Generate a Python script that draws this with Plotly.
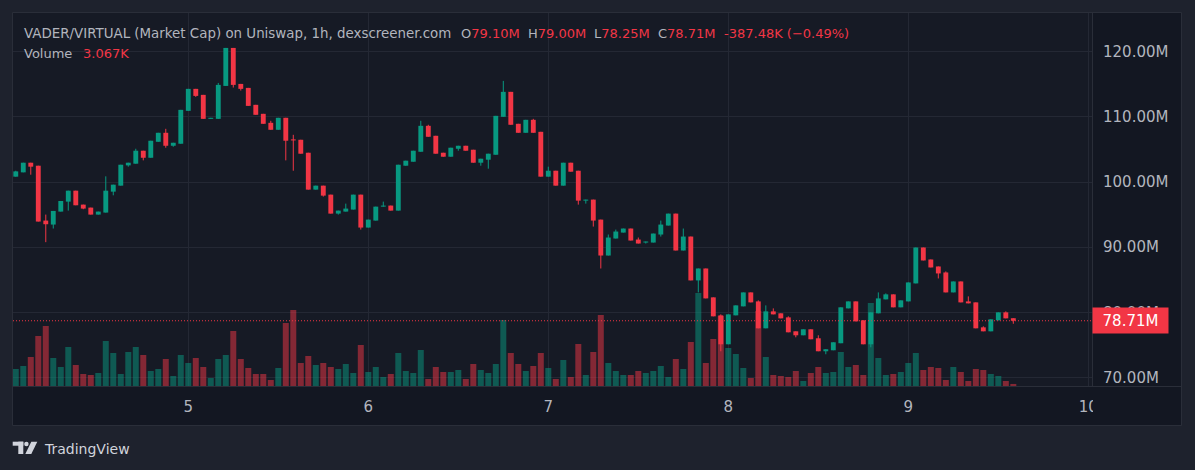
import plotly.graph_objects as go
import pandas as pd

# ---------------- data ----------------
start_time = "2025-02-04 01:00"   # first hourly candle
opens = [100.82, 101.48, 102.96, 102.50, 94.08, 93.47, 95.46, 96.99, 98.67, 96.53,
         96.07, 95.00, 95.31, 98.52, 99.44, 102.55, 102.81, 104.80, 103.72, 106.17,
         107.55, 105.56, 105.87, 110.92, 114.29, 113.37, 109.69, 109.69, 114.74, 120.57,
         115.05, 114.44, 111.84, 110.46, 109.08, 108.01, 109.85, 106.53, 106.48, 104.49,
         98.83, 99.44, 98.06, 95.15, 95.46, 95.77, 98.06, 93.01, 94.08, 96.22,
         96.38, 95.61, 102.50, 103.11, 104.64, 108.62, 107.09, 104.49, 103.88, 105.10,
         105.56, 104.95, 102.96, 103.42, 104.18, 110.00, 113.83, 108.93, 107.55, 109.54,
         107.70, 100.82, 101.73, 99.44, 102.96, 101.73, 97.14, 97.30, 94.23, 88.72,
         91.33, 92.24, 92.86, 91.17, 90.71, 90.71, 91.94, 93.32, 95.15, 89.49,
         91.63, 84.90, 86.73, 82.30, 79.54, 75.10, 79.54, 80.92, 83.06, 81.68,
         77.55, 80.15, 79.85, 79.23, 77.09, 76.48, 77.40, 76.02, 74.03, 74.18,
         75.26, 80.61, 81.68, 78.78, 75.10, 79.85, 81.99, 82.76, 80.77, 81.68,
         84.44, 89.95, 88.11, 87.04, 86.12, 83.06, 84.74, 81.68, 81.53, 77.70,
         77.09, 78.78, 80.00, 79.10]
highs = [101.73, 102.96, 102.96, 102.50, 95.00, 95.56, 97.09, 98.67, 98.67, 96.53,
         96.07, 95.46, 100.87, 99.59, 102.65, 102.96, 105.10, 104.80, 106.33, 107.55,
         108.16, 106.02, 111.07, 114.29, 114.29, 113.37, 109.85, 115.20, 120.57, 120.57,
         115.05, 114.44, 111.84, 110.46, 109.39, 109.85, 109.85, 107.24, 106.48, 104.49,
         99.44, 99.44, 98.06, 95.61, 96.68, 98.06, 98.06, 94.23, 96.22, 96.99,
         96.38, 102.65, 103.27, 104.80, 109.39, 108.78, 107.09, 104.49, 105.26, 105.56,
         105.56, 104.95, 103.57, 104.34, 110.15, 115.51, 113.83, 108.93, 109.54, 109.69,
         107.70, 102.35, 101.73, 102.96, 102.96, 101.73, 97.30, 97.30, 94.23, 91.94,
         92.70, 92.86, 92.86, 91.48, 90.87, 92.09, 94.08, 95.15, 95.15, 92.86,
         91.63, 86.73, 86.73, 82.30, 79.69, 79.69, 81.07, 83.06, 83.06, 81.84,
         81.07, 80.61, 79.85, 79.39, 77.09, 77.40, 77.40, 76.48, 74.34, 75.41,
         80.77, 81.68, 81.68, 78.78, 80.00, 83.06, 82.91, 82.76, 81.84, 84.59,
         89.95, 89.95, 88.11, 87.04, 86.28, 84.74, 84.74, 82.45, 81.53, 77.86,
         78.93, 80.00, 80.15, 79.10]
lows = [100.82, 101.48, 101.12, 93.93, 90.77, 92.86, 95.46, 95.61, 96.43, 95.82,
        95.00, 95.00, 95.31, 97.96, 99.44, 102.35, 102.81, 103.32, 103.72, 106.17,
        105.26, 105.41, 105.87, 110.92, 113.06, 109.69, 109.69, 109.69, 114.74, 114.49,
        114.03, 111.68, 110.31, 108.93, 108.01, 108.01, 103.32, 101.73, 104.34, 98.83,
        98.83, 97.76, 95.15, 95.00, 95.46, 95.77, 92.70, 93.01, 94.08, 96.22,
        95.61, 95.61, 102.50, 103.11, 104.64, 106.94, 104.34, 103.88, 103.88, 104.80,
        104.80, 102.96, 102.50, 102.04, 104.18, 110.00, 108.78, 107.55, 107.55, 107.55,
        100.82, 100.82, 99.44, 99.44, 101.58, 96.53, 96.68, 93.16, 86.73, 88.72,
        91.33, 92.24, 91.02, 90.56, 90.56, 90.71, 91.63, 93.32, 89.49, 89.49,
        84.90, 83.06, 82.14, 79.39, 74.03, 75.10, 79.54, 80.92, 81.53, 77.55,
        77.55, 79.69, 79.08, 76.94, 76.17, 76.48, 75.87, 74.03, 73.57, 74.18,
        75.26, 80.61, 78.62, 75.10, 74.64, 79.85, 81.99, 80.77, 80.77, 81.68,
        84.44, 87.96, 86.89, 85.20, 83.06, 83.06, 81.53, 81.38, 77.55, 77.09,
        77.09, 78.78, 79.08, 78.25]
closes = [101.63, 102.96, 102.35, 93.93, 93.52, 95.56, 97.09, 98.67, 96.43, 95.92,
          95.00, 95.46, 98.67, 99.59, 102.65, 102.96, 104.80, 103.72, 106.33, 107.55,
          105.56, 106.02, 111.07, 114.29, 113.21, 109.69, 109.85, 114.90, 120.57, 114.90,
          114.29, 111.68, 110.31, 108.93, 108.01, 109.85, 106.33, 106.38, 104.34, 98.83,
          99.44, 97.91, 95.15, 95.61, 95.92, 98.06, 93.01, 94.23, 96.22, 96.38,
          95.61, 102.65, 103.27, 104.80, 108.62, 106.94, 104.34, 103.88, 105.26, 105.56,
          104.80, 102.96, 103.57, 104.34, 110.15, 113.83, 108.78, 107.55, 109.54, 107.55,
          100.82, 101.73, 99.44, 102.96, 101.58, 97.14, 97.30, 94.08, 88.72, 91.48,
          92.40, 92.86, 91.02, 90.56, 90.87, 92.09, 93.47, 95.15, 89.49, 91.63,
          84.90, 86.73, 82.14, 79.39, 75.10, 79.69, 81.07, 83.06, 81.53, 77.55,
          80.15, 79.69, 79.08, 76.94, 76.48, 77.40, 75.87, 74.03, 74.34, 75.41,
          80.77, 81.68, 78.62, 75.10, 80.00, 82.14, 82.76, 80.77, 81.84, 84.59,
          89.95, 87.96, 86.89, 85.97, 83.06, 84.74, 81.53, 81.38, 77.55, 77.09,
          78.93, 80.00, 79.08, 78.71]
volumes_k = [25.5, 30, 43.5, 75, 90, 42, 28.5, 58.5, 31.5, 18, 16.5, 19.5, 67.5, 49.5, 18,
             51, 58.5, 46.5, 22.5, 25.5, 40.5, 15, 46.5, 34.5, 42, 28.5, 12, 40.5, 46.5, 82.5,
             40.5, 27, 18, 18, 9, 27, 94.5, 114, 34.5, 45, 31.5, 34.5, 28.5, 25.5, 33,
             19.5, 61.5, 21, 28.5, 13.5, 18, 49.5, 22.5, 19.5, 54, 10.5, 28.5, 21, 21, 24,
             10.5, 33, 24, 19.5, 33, 99, 49.5, 33, 22.5, 30, 49.5, 27, 10.5, 39, 13.5,
             63, 16.5, 51, 106.5, 34.5, 22.5, 16.5, 16.5, 22.5, 19.5, 22.5, 30, 13.5, 40.5, 25.5,
             66, 139.5, 34.5, 70.5, 105, 57, 48, 27, 12, 112.5, 43.5, 16.5, 15, 13.5, 22.5,
             7.5, 19.5, 28.5, 19.5, 21, 51, 28.5, 31.5, 16.5, 124.5, 42, 16.5, 18, 21, 34.5,
             49.5, 24, 28.5, 27, 9, 28.5, 21, 7.5, 25.5, 24, 18, 15, 7.5, 3.067]

day_ticks = ["2025-02-05", "2025-02-06", "2025-02-07", "2025-02-08", "2025-02-09", "2025-02-10"]
day_labels = ["5", "6", "7", "8", "9", "10"]
price_ticks = [70, 80, 90, 100, 110, 120]
price_labels = ["70.00M", "80.00M", "90.00M", "100.00M", "110.00M", "120.00M"]

title_text = "VADER/VIRTUAL (Market Cap) on Uniswap, 1h, dexscreener.com"
ohlc_header = [("O", "79.10M"), ("H", "79.00M"), ("L", "78.25M"), ("C", "78.71M")]
change_text = "-387.48K (\u22120.49%)"
volume_text = "3.067K"

assert len(opens) == len(highs) == len(lows) == len(closes) == len(volumes_k)

# ---------------- style ----------------
W, H = 1195, 470
PL, PR, PT, PB = 13, 1092, 13, 386
UP, DOWN = "#089981", "#f23645"
UP_VOL, DOWN_VOL = "rgba(8,153,129,0.5)", "rgba(242,54,69,0.5)"
TXT = "#b2b5be"
GRID = "#242834"
BORDER = "#2a2e39"
FONT = "DejaVu Sans"
HOUR_MS = 3600 * 1000


def xp(px):
    return (px - PL) / (PR - PL)


def yp(py):
    return (PB - py) / (PB - PT)


times = pd.date_range(start_time, periods=len(opens), freq="h")
is_up = [c >= o for o, c in zip(opens, closes)]

fig = go.Figure()

# volume (base axis y)
fig.add_trace(go.Bar(
    x=times, y=volumes_k, yaxis="y", xaxis="x",
    marker=dict(color=[UP_VOL if u else DOWN_VOL for u in is_up], line=dict(width=0)),
    width=0.8 * HOUR_MS, hoverinfo="skip", showlegend=False,
))

# last price dotted line
day5 = pd.Timestamp(day_ticks[0])
x_range = [day5 - pd.Timedelta(hours=23.37), day5 + pd.Timedelta(hours=120.49)]
fig.add_trace(go.Scatter(
    x=x_range, y=[closes[-1], closes[-1]], yaxis="y2", mode="lines",
    line=dict(color=DOWN, width=1, dash="1px,2px"), hoverinfo="skip", showlegend=False,
))

# wicks
for up_flag, col in ((True, UP), (False, DOWN)):
    wx, wy = [], []
    for t, h, l, u in zip(times, highs, lows, is_up):
        if u == up_flag:
            wx += [t, t, None]
            wy += [l, h, None]
    fig.add_trace(go.Scatter(x=wx, y=wy, yaxis="y2", mode="lines",
                             line=dict(color=col, width=1), hoverinfo="skip",
                             showlegend=False))

# bodies
for up_flag, col in ((True, UP), (False, DOWN)):
    bx, bb, bh = [], [], []
    for t, o, c, u in zip(times, opens, closes, is_up):
        if u == up_flag:
            bx.append(t)
            bb.append(min(o, c))
            bh.append(max(abs(c - o), 0.16))
    fig.add_trace(go.Bar(x=bx, y=bh, base=bb, yaxis="y2", width=0.65 * HOUR_MS,
                         marker=dict(color=col, line=dict(width=0)),
                         hoverinfo="skip", showlegend=False))

shapes = [
    dict(type="rect", xref="paper", yref="paper", layer="below",
         x0=xp(12.5), x1=xp(1181.5), y0=yp(425.5), y1=yp(12.5),
         fillcolor="#131722", line=dict(color=BORDER, width=1)),
    dict(type="rect", xref="paper", yref="paper", layer="below",
         x0=xp(13), x1=xp(1092), y0=yp(386), y1=yp(13),
         fillcolor="#161a25", line=dict(width=0)),
    dict(type="line", xref="paper", yref="paper", layer="below",
         x0=xp(1092.5), x1=xp(1092.5), y0=yp(386), y1=yp(13),
         line=dict(color=BORDER, width=1)),
    dict(type="line", xref="paper", yref="paper", layer="below",
         x0=xp(13), x1=xp(1181), y0=yp(386.5), y1=yp(386.5),
         line=dict(color=BORDER, width=1)),
    # clip of the time-axis label that runs under the price scale
    dict(type="rect", xref="paper", yref="paper", layer="above",
         x0=xp(1093), x1=xp(1181), y0=yp(425), y1=yp(387),
         fillcolor="#131722", line=dict(width=0)),
    # TradingView logo
    dict(type="rect", xref="paper", yref="paper", x0=xp(12.7), x1=xp(23.3),
         y0=yp(445.7), y1=yp(441.7), fillcolor="#d1d4dc", line=dict(width=0)),
    dict(type="rect", xref="paper", yref="paper", x0=xp(18.3), x1=xp(23.3),
         y0=yp(454), y1=yp(441.7), fillcolor="#d1d4dc", line=dict(width=0)),
    dict(type="circle", xref="paper", yref="paper", x0=xp(24.2), x1=xp(28.6),
         y0=yp(446.2), y1=yp(441.8), fillcolor="#d1d4dc", line=dict(width=0)),
    dict(type="path", xref="paper", yref="paper",
         path=f"M {xp(31.3)} {yp(441.7)} L {xp(37.3)} {yp(441.7)} L {xp(31.3)} {yp(454)} L {xp(25.3)} {yp(454)} Z",
         fillcolor="#d1d4dc", line=dict(width=0)),
]

annotations = [
    dict(text=title_text, xref="paper", yref="paper", x=xp(23), y=yp(33.3),
         xanchor="left", yanchor="middle", showarrow=False, borderpad=0,
         font=dict(family=FONT, size=13.4, color=TXT)),
    dict(text="Volume", xref="paper", yref="paper", x=xp(23), y=yp(53.3),
         xanchor="left", yanchor="middle", showarrow=False, borderpad=0,
         font=dict(family=FONT, size=13, color=TXT)),
    dict(text=volume_text, xref="paper", yref="paper", x=xp(81.7), y=yp(53.3),
         xanchor="left", yanchor="middle", showarrow=False, borderpad=0,
         font=dict(family=FONT, size=13, color=DOWN)),
    dict(text=change_text, xref="paper", yref="paper", x=xp(723.3), y=yp(33.3),
         xanchor="left", yanchor="middle", showarrow=False, borderpad=0,
         font=dict(family=FONT, size=13, color=DOWN)),
    dict(text="TradingView", xref="paper", yref="paper", x=xp(42.5), y=yp(448.5),
         xanchor="left", yanchor="middle", showarrow=False, borderpad=0,
         font=dict(family=FONT, size=14, color="#d1d4dc")),
    dict(text=f"{closes[-1]:.2f}M", xref="paper", yref="y2", x=1.0, y=closes[-1],
         xanchor="left", yanchor="middle", showarrow=False, borderpad=1,
         width=73, height=23, align="center", bgcolor=DOWN,
         font=dict(family=FONT, size=15, color="#ffffff")),
]
for (lab, val), xpx in zip(ohlc_header, (460, 526.7, 593.3, 657.3)):
    annotations.append(dict(
        text=f"<span style='color:{TXT}'>{lab}</span><span style='color:{DOWN}'>{val}</span>",
        xref="paper", yref="paper", x=xp(xpx), y=yp(33.3), xanchor="left", yanchor="middle",
        showarrow=False, borderpad=0, font=dict(family=FONT, size=13, color=TXT)))

fig.update_layout(
    width=W, height=H,
    margin=dict(l=PL, r=W - PR, t=PT, b=H - PB, pad=0),
    paper_bgcolor="#1e222d", plot_bgcolor="rgba(0,0,0,0)",
    barmode="overlay", showlegend=False, hovermode=False,
    xaxis=dict(range=x_range, tickvals=day_ticks, ticktext=day_labels,
               showgrid=True, gridcolor=GRID, gridwidth=1, zeroline=False,
               showline=False, ticks="", ticklabelstandoff=10,
               tickfont=dict(family=FONT, size=15, color=TXT)),
    yaxis=dict(range=[0, 559.5], visible=False, showgrid=False, zeroline=False),
    yaxis2=dict(range=[68.70, 125.93], overlaying="y", side="right",
                tickvals=price_ticks, ticktext=price_labels,
                showgrid=True, gridcolor=GRID, gridwidth=1, zeroline=False,
                showline=False, ticks="", ticklabelstandoff=10,
                tickfont=dict(family=FONT, size=15, color=TXT)),
    shapes=shapes, annotations=annotations,
)

fig.write_html("out.html",
               config={"displayModeBar": False, "staticPlot": True},
               post_script="document.body.style.margin='0';document.body.style.background='#1e222d';")
